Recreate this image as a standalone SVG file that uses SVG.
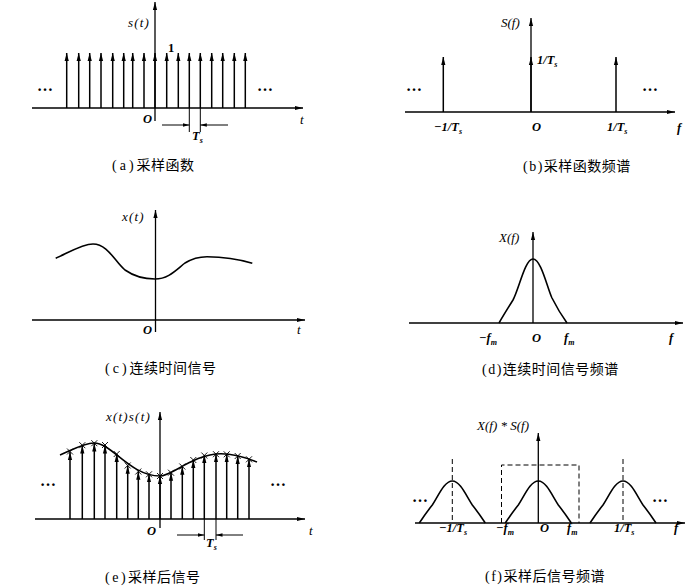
<svg xmlns="http://www.w3.org/2000/svg" width="696" height="586" viewBox="0 0 696 586">
<defs>
<style>
.ax{stroke:#000;stroke-width:1.3;fill:none}
.imp{stroke:#000;stroke-width:1.5;fill:none}
.crv{stroke:#000;stroke-width:1.6;fill:none}
.thin{stroke:#000;stroke-width:1;fill:none}
.dash{stroke:#000;stroke-width:1;stroke-dasharray:5 3;fill:none}
.lbl{font-family:"Liberation Serif",serif;font-style:italic;font-size:13px;letter-spacing:1.2px;fill:#000}
.lbn{font-family:"Liberation Serif",serif;font-style:italic;font-size:13px;fill:#000}
.lb{font-family:"Liberation Serif",serif;font-style:italic;font-weight:bold;font-size:12.5px;fill:#000}
.num{font-family:"Liberation Serif",serif;font-weight:bold;font-size:12.5px;fill:#000}
.cap{font-family:"Liberation Serif","Noto Sans CJK SC",serif;font-size:14px;letter-spacing:0.5px;fill:#000}
.dots{font-family:"Liberation Serif",serif;font-size:16px;font-weight:bold;fill:#000}
</style>
<marker id="ah" markerUnits="userSpaceOnUse" markerWidth="9" markerHeight="6" refX="8" refY="3" orient="auto">
<path d="M0,0.9 L8,3 L0,5.1 Z" fill="#000"/>
</marker>
<marker id="ahs" markerUnits="userSpaceOnUse" markerWidth="7" markerHeight="5" refX="6.5" refY="2.5" orient="auto">
<path d="M0,0.8 L6.5,2.5 L0,4.2 Z" fill="#000"/>
</marker>
<g id="cross"><path d="M-3,-3 L3,3 M-3,3 L3,-3" stroke="#000" stroke-width="0.9"/></g>
</defs>
<rect width="696" height="586" fill="#fff"/>

<!-- (a) -->
<g id="panel-a">
<path class="ax" d="M32,108 H303" marker-end="url(#ah)"/>
<path class="ax" d="M155,121 V2" marker-end="url(#ah)"/>
<g class="imp" marker-end="url(#ah)">
<path d="M66.7,108 V53"/><path d="M78.7,108 V53"/><path d="M89.7,108 V53"/><path d="M101,108 V53"/>
<path d="M112.7,108 V53"/><path d="M123.7,108 V53"/><path d="M132.7,108 V53"/><path d="M144,108 V53"/>
<path d="M155,108 V53"/><path d="M166.7,108 V53"/><path d="M178.3,108 V53"/><path d="M189.3,108 V53"/>
<path d="M200.3,108 V53"/><path d="M211.7,108 V53"/><path d="M222.7,108 V53"/><path d="M234.3,108 V53"/>
<path d="M245.3,108 V53"/>
</g>
<path class="thin" d="M189.3,108 V132 M200.3,108 V132"/>
<path class="thin" d="M162,125 H189.3" marker-end="url(#ahs)"/>
<path class="thin" d="M228,125 H200.3" marker-end="url(#ahs)"/>
<text class="lbl" x="128" y="27">s(t)</text>
<text class="num" x="168" y="52">1</text>
<text class="dots" x="37" y="91">…</text>
<text class="dots" x="257" y="91">…</text>
<text class="lb" x="143" y="123">O</text>
<text class="lbl" x="300" y="124">t</text>
<text class="lb" x="192" y="140">T<tspan font-size="8" dy="3">s</tspan></text>
<text class="cap" x="112" y="170"><tspan letter-spacing="3">(a)</tspan>采样函数</text>
</g>

<!-- (b) -->
<g id="panel-b">
<path class="ax" d="M405,112 H675" marker-end="url(#ah)"/>
<path class="ax" d="M531,112 V18" marker-end="url(#ah)"/>
<g class="imp" marker-end="url(#ah)">
<path d="M443.3,112 V57"/><path d="M531,112 V57"/><path d="M616,112 V57"/>
</g>
<text class="lbn" x="501" y="27">S(f)</text>
<text class="lb" x="537" y="64">1/T<tspan font-size="8" dy="3">s</tspan></text>
<text class="dots" x="406" y="91">…</text>
<text class="dots" x="642" y="91">…</text>
<text class="lb" x="434" y="131">−1/T<tspan font-size="8" dy="3">s</tspan></text>
<text class="lb" x="532" y="131">O</text>
<text class="lb" x="607" y="131">1/T<tspan font-size="8" dy="3">s</tspan></text>
<text class="lb" x="677" y="132">f</text>
<text class="cap" x="523" y="171"><tspan letter-spacing="1.5">(b)</tspan>采样函数频谱</text>
</g>

<!-- (c) -->
<g id="panel-c">
<path class="ax" d="M32,320 H305" marker-end="url(#ah)"/>
<path class="ax" d="M155.5,332 V210" marker-end="url(#ah)"/>
<path class="crv" d="M55.7,258.3 C68,253 82,244 93,244 C108,244 115,262 125,270 C135,277 145,279 155,279 C168,279 175,271 185,263 C193,258 200,256.7 207,256.7 C222,256.7 240,259.5 252.3,263.3"/>
<text class="lbl" x="122" y="221">x(t)</text>
<text class="lb" x="143" y="334">O</text>
<text class="lbl" x="297" y="334">t</text>
<text class="cap" x="105" y="373"><tspan letter-spacing="3">(c)</tspan>连续时间信号</text>
</g>

<!-- (d) -->
<g id="panel-d">
<path class="ax" d="M409,323 H683" marker-end="url(#ah)"/>
<path class="ax" d="M533,323 V232" marker-end="url(#ah)"/>
<path class="crv" d="M499,323 C503,316 508,308 513,300 C519,289 525,259 533,259 C541,259 547,287 552,298 C557,308 562,316 567,323"/>
<text class="lbn" x="499" y="242">X(f)</text>
<text class="lb" x="479" y="342">−f<tspan font-size="8" dy="3">m</tspan></text>
<text class="lb" x="532" y="342">O</text>
<text class="lb" x="564" y="342">f<tspan font-size="8" dy="3">m</tspan></text>
<text class="lb" x="669" y="342">f</text>
<text class="cap" x="482" y="374"><tspan letter-spacing="1.5">(d)</tspan>连续时间信号频谱</text>
</g>

<!-- (e) -->
<g id="panel-e">
<path class="ax" d="M35,519 H305" marker-end="url(#ah)"/>
<path class="ax" d="M160,528 V412" marker-end="url(#ah)"/>
<g class="imp" marker-end="url(#ah)">
<path d="M70,519 V452"/><path d="M82.3,519 V445.5"/><path d="M94.3,519 V443.5"/><path d="M105,519 V445.5"/>
<path d="M116.7,519 V454"/><path d="M127.7,519 V465.7"/><path d="M138.3,519 V471.7"/><path d="M149,519 V474.3"/>
<path d="M160,519 V476"/><path d="M171,519 V472.7"/><path d="M182.3,519 V466.7"/><path d="M193.3,519 V460"/>
<path d="M204.3,519 V455"/><path d="M216,519 V454.3"/><path d="M226.7,519 V454.3"/><path d="M237.7,519 V456"/>
<path d="M249,519 V459.3"/>
</g>
<path class="crv" d="M60,455 C72,450 84,443 94,443 C112,443 130,476 160,476 C172,476 194,453.8 221,453.8 C233,453.8 247,458 257,462"/>
<use href="#cross" x="70" y="451.5"/><use href="#cross" x="82.3" y="445.2"/><use href="#cross" x="94.3" y="443.2"/><use href="#cross" x="105" y="445"/>
<use href="#cross" x="116.7" y="454"/><use href="#cross" x="127.7" y="465.5"/><use href="#cross" x="138.3" y="471.5"/><use href="#cross" x="149" y="474.3"/>
<use href="#cross" x="160" y="476"/><use href="#cross" x="171" y="472.7"/><use href="#cross" x="182.3" y="466.5"/><use href="#cross" x="193.3" y="460"/>
<use href="#cross" x="204.3" y="455.5"/><use href="#cross" x="216" y="454.2"/><use href="#cross" x="226.7" y="454.3"/><use href="#cross" x="237.7" y="456"/>
<use href="#cross" x="249" y="459.3"/>
<path class="thin" d="M204.3,519 V540 M216,519 V540"/>
<path class="thin" d="M177,535 H204.3" marker-end="url(#ahs)"/>
<path class="thin" d="M243,535 H216" marker-end="url(#ahs)"/>
<text class="lbl" x="106" y="421">x(t)s(t)</text>
<text class="dots" x="40" y="486">…</text>
<text class="dots" x="270" y="486">…</text>
<text class="lb" x="147" y="535">O</text>
<text class="lbl" x="309" y="535">t</text>
<text class="lb" x="206" y="547">T<tspan font-size="8" dy="3">s</tspan></text>
<text class="cap" x="105" y="582"><tspan letter-spacing="2.5">(e)</tspan>采样后信号</text>
</g>

<!-- (f) -->
<g id="panel-f">
<path class="ax" d="M415,523 H685" marker-end="url(#ah)"/>
<path class="dash" d="M452.3,459 V523 M623,459 V523 M501.5,523 V465 H579 V523"/>
<path class="crv" d="M419.3,523 C423.3,517 428.3,510 432.3,505 C438.3,496 444.3,481 452.3,481 C460.3,481 466.3,496 472.3,505 C476.3,510 481.3,517 485.3,523"/>
<path class="crv" d="M505.3,523 C509.3,517 514.3,510 518.3,505 C524.3,496 530.3,481 538.3,481 C546.3,481 552.3,496 558.3,505 C562.3,510 567.3,517 571.3,523"/>
<path class="crv" d="M590,523 C594,517 599,510 603,505 C609,496 615,481 623,481 C631,481 637,496 643,505 C647,510 652,517 656,523"/>
<path class="ax" d="M538.3,523 V433" marker-end="url(#ah)"/>
<text class="lbn" x="477" y="430">X(f) * S(f)</text>
<text class="dots" x="412" y="502">…</text>
<text class="dots" x="652" y="502">…</text>
<text class="lb" x="439" y="532">−1/T<tspan font-size="8" dy="3">s</tspan></text>
<text class="lb" x="496" y="532">−f<tspan font-size="8" dy="3">m</tspan></text>
<text class="lb" x="540" y="532">O</text>
<text class="lb" x="567" y="532">f<tspan font-size="8" dy="3">m</tspan></text>
<text class="lb" x="614" y="532">1/T<tspan font-size="8" dy="3">s</tspan></text>
<text class="lb" x="674" y="532">f</text>
<text class="cap" x="485" y="581"><tspan letter-spacing="1.5">(f)</tspan>采样后信号频谱</text>
</g>
</svg>
